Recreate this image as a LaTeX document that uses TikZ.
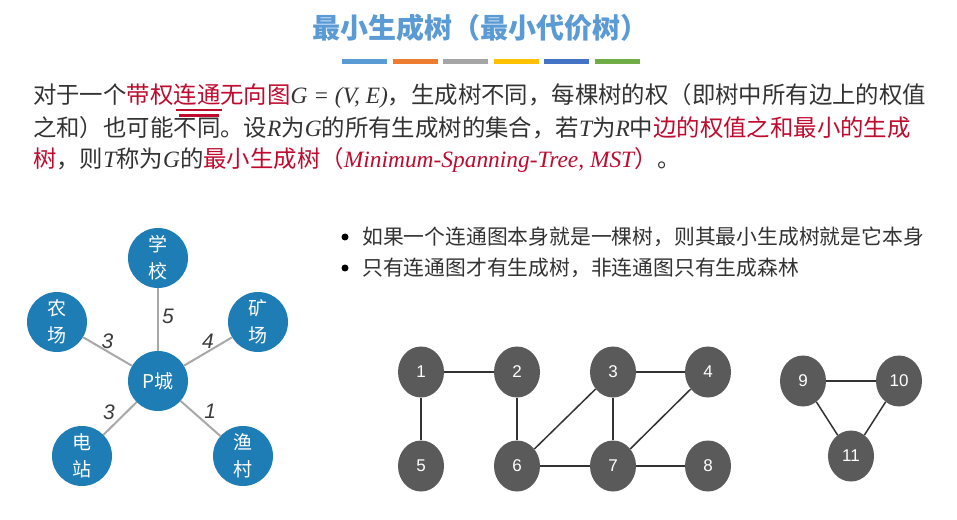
\documentclass[tikz,border=0pt]{standalone}
\usepackage{fontspec}
\setmainfont{Noto Sans CJK SC}
\newfontfamily\serifit{Liberation Serif}
\newfontfamily\helv{Liberation Sans}
\usepackage{xcolor}
\usetikzlibrary{shapes.geometric,positioning}
\definecolor{titleblue}{HTML}{5B9BD5}
\definecolor{barorange}{HTML}{ED7D31}
\definecolor{bargray}  {HTML}{A5A5A5}
\definecolor{bargold}  {HTML}{FFC000}
\definecolor{bardeep}  {HTML}{4472C4}
\definecolor{bargreen} {HTML}{70AD47}
\definecolor{textgray} {HTML}{333333}
\definecolor{mstred}   {HTML}{C00A2E}
\definecolor{townblue} {HTML}{1F7DB6}
\definecolor{roadgray} {HTML}{A8A8A8}
\definecolor{costgray} {HTML}{3C3C3C}
\definecolor{vtxgray}  {HTML}{5A5A5A}
\definecolor{linkgray} {HTML}{333333}
\newcommand\hot[1]{\textcolor{mstred}{#1}}
\newcommand\vit[1]{{\serifit\itshape #1}}

\begin{document}
\begin{tikzpicture}[x=1bp,y=-1bp,
        para/.style={anchor=west,inner sep=0pt,text=textgray,
                     font=\fontsize{23.4bp}{28bp}\selectfont},
        item/.style={anchor=west,inner sep=0pt,text=textgray,
                     font=\fontsize{20.8bp}{24bp}\selectfont},
        dot/.style={circle,fill=black,minimum size=7bp,inner sep=0pt},
        bar/.style={minimum width=45bp,minimum height=5bp,inner sep=0pt},
        town/.style={circle,fill=townblue,text=white,minimum size=60bp,
                     inner sep=0pt,align=center,
                     font=\fontsize{19bp}{27bp}\selectfont},
        road/.style={draw=roadgray,line width=2bp},
        cost/.style={text=costgray,inner sep=1bp,
                     font=\helv\itshape\fontsize{21bp}{21bp}\selectfont},
        vtx/.style={ellipse,fill=vtxgray,text=white,minimum width=46bp,
                    minimum height=51bp,inner sep=0pt,
                    font=\helv\fontsize{17bp}{17bp}\selectfont},
        link/.style={draw=linkgray,line width=1.5bp}]
  \fill[white] (0,0) rectangle (957,520);
  \useasboundingbox (0,0) rectangle (957,520);

  % title and colour strip
  \node[text=titleblue,font=\bfseries\fontsize{28bp}{28bp}\selectfont]
    (title) at (480,28) {最小生成树（最小代价树）};
  \foreach \c [count=\i] in {titleblue,barorange,bargray,bargold,bardeep,bargreen}
    \node[bar,fill=\c] (bar\i) at (314+50.5*\i,62) {};

  % definition
  \node[para] (line1) at (33,96)
    {对于一个\hot{带权连通无向图}\vit{G = (V, E)}，生成树不同，每棵树的权（即树中所有边上的权值};
  \node[para] (line2) at (33,128)
    {之和）也可能不同。设\vit{R}为\vit{G}的所有生成树的集合，若\vit{T}为\vit{R}中\hot{边的权值之和最小的生成}};
  \node[para] (line3) at (33,160)
    {\hot{树}，则\vit{T}称为\vit{G}的\hot{最小生成树（\vit{Minimum-Spanning-Tree, MST}）}。};
  \draw[mstred,line width=2.5bp] (176,110) -- (222,110);
  \draw[mstred,line width=2.5bp] (179,115.5) -- (219,115.5);

  % remarks
  \node[dot] (dot1) at (345,237) {};
  \node[item] (rem1) at (362,237) {如果一个连通图本身就是一棵树，则其最小生成树就是它本身};
  \node[dot] (dot2) at (345,268) {};
  \node[item] (rem2) at (362,268) {只有连通图才有生成树，非连通图只有生成森林};

  % weighted star
  \node[town] (pcity)  at (158,381) {P城};
  \node[town] (school) at (158,258) {学\\校};
  \node[town] (farm)   at (57,322)  {农\\场};
  \node[town] (mine)   at (258,322) {矿\\场};
  \node[town] (plant)  at (82,456)  {电\\站};
  \node[town] (fish)   at (243,456) {渔\\村};
  \draw[road] (pcity) -- node[cost,right=2bp,pos=.55] {5} (school);
  \draw[road] (pcity) -- node[cost,above=1bp] {3} (farm);
  \draw[road] (pcity) -- node[cost,above=1bp] {4} (mine);
  \draw[road] (pcity) -- node[cost,above left=0bp and 0bp,pos=.6] {3} (plant);
  \draw[road] (pcity) -- node[cost,above right=0bp and 0bp,pos=.55] {1} (fish);

  % graphs
  \node[vtx] (v1)  at (421,372) {1};
  \node[vtx] (v2)  at (517,372) {2};
  \node[vtx] (v3)  at (613,372) {3};
  \node[vtx] (v4)  at (708,372) {4};
  \node[vtx] (v5)  at (421,466) {5};
  \node[vtx] (v6)  at (517,466) {6};
  \node[vtx] (v7)  at (613,466) {7};
  \node[vtx] (v8)  at (708,466) {8};
  \node[vtx] (v9)  at (803,381) {9};
  \node[vtx] (v10) at (899,381) {10};
  \node[vtx] (v11) at (851,456) {11};
  \foreach \a/\b in {1/2,1/5,2/6,6/3,3/4,3/7,4/7,6/7,7/8,9/10,9/11,10/11}
    \draw[link] (v\a) -- (v\b);
\end{tikzpicture}
\end{document}
